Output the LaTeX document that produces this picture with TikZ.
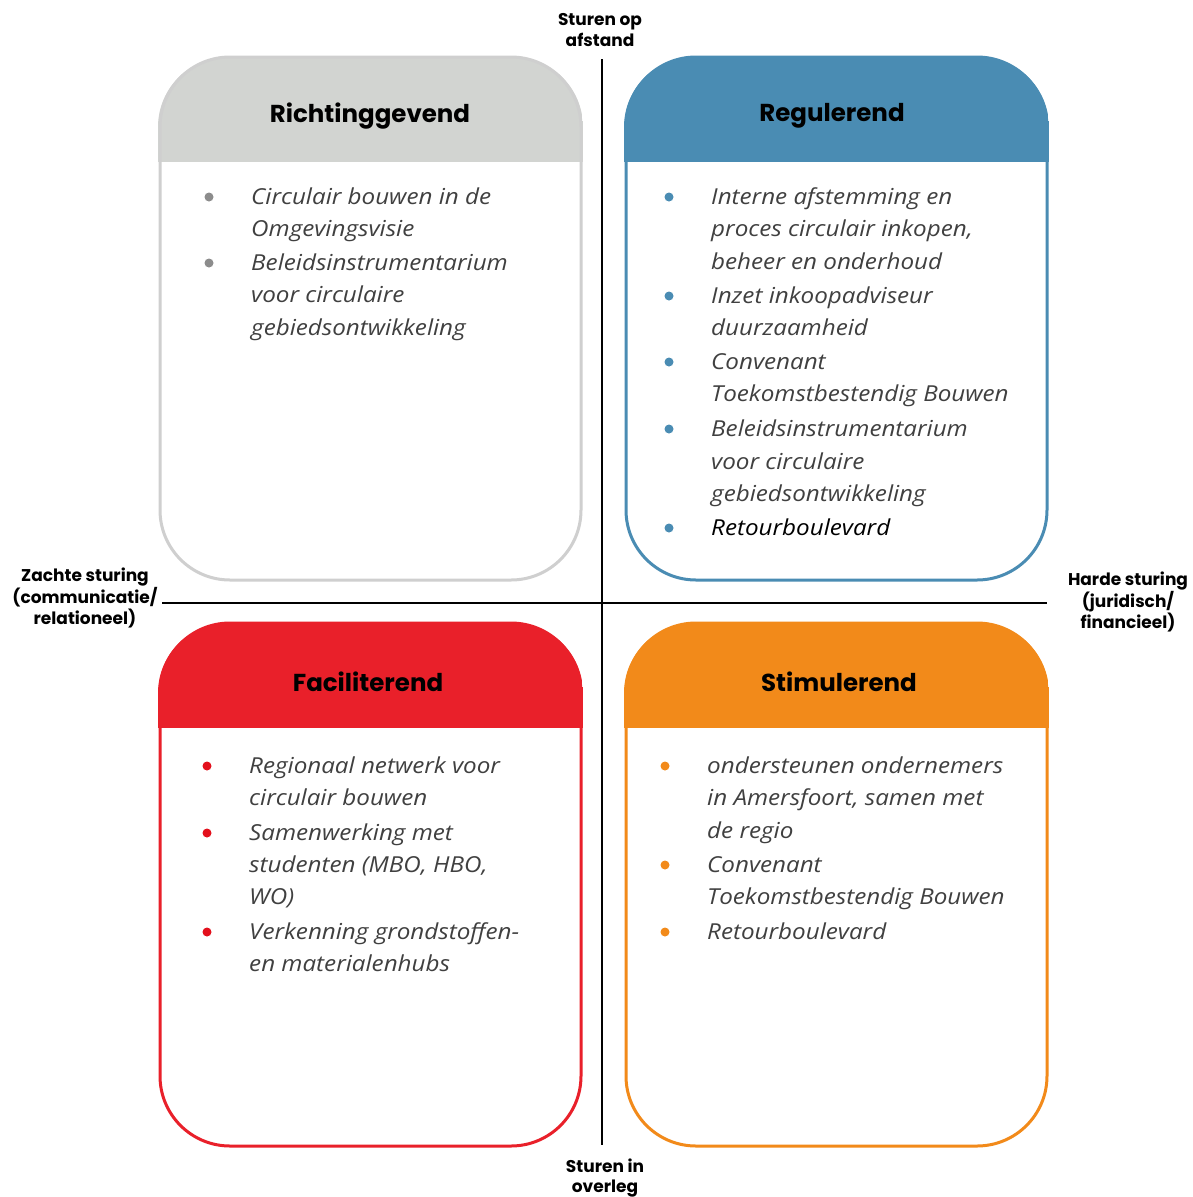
\documentclass[tikz,border=0pt]{standalone}
\usepackage{fontspec}
\setmainfont{Open Sans}[FakeStretch=1.1]
\newfontfamily\titlefont{Poppins}
\definecolor{cgrayh}{HTML}{D2D4D1}
\definecolor{cgrayb}{HTML}{CFCFCF}
\definecolor{cgrayd}{HTML}{8C8C8C}
\definecolor{cblue}{HTML}{4A8CB3}
\definecolor{cred}{HTML}{E9202A}
\definecolor{credd}{HTML}{E3101C}
\definecolor{corange}{HTML}{F28A1A}
\definecolor{ctext}{HTML}{404040}
\newcommand\itemline[4]{\node[bodytext,anchor=mid west] (#1) at (#2,#3+4) {#4};}
\newcommand\itemdot[4]{\fill[#4] (#2,#3) circle[radius=4.5] coordinate (#1);}
\begin{document}
\begin{tikzpicture}[x=1pt,y=-1pt,
  bodytext/.style={inner sep=0pt,font=\fontsize{22}{26}\selectfont\itshape,text=ctext},
  titletext/.style={inner sep=0pt,font=\titlefont\bfseries\fontsize{24.5}{28}\selectfont,text=black},
  axistext/.style={inner sep=0pt,align=center,font=\titlefont\bfseries\fontsize{17}{20.5}\selectfont,text=black},
  axisline/.style={line width=2.2pt,black}]
\useasboundingbox (0,0) rectangle (1193,1197);
\fill[white] (0,0) rectangle (1193,1197);
% boxes
\foreach \bx/\by/\hc/\bc in {160/57/cgrayh/cgrayb, 626/57/cblue/cblue, 160/623/cred/cred, 626/623/corange/corange}{
  \fill[white,rounded corners=70] (\bx,\by) rectangle ++(421,523);
  \begin{scope}
    \clip[rounded corners=70] (\bx-2,\by) rectangle ++(425,523);
    \fill[\hc] (\bx-2,\by-2) rectangle ++(425,107);
  \end{scope}
  \draw[\bc,line width=3,rounded corners=70] (\bx,\by) rectangle ++(421,523);
}
% axes
\coordinate (vt) at (602,59);
\coordinate (vb) at (602,1145);
\coordinate (hl) at (162,603);
\coordinate (hr) at (1047,603);
\draw[axisline] (vt) -- (vb);
\draw[axisline] (hl) -- (hr);
% axis labels
\node[axistext] (top) at (600,30) {Sturen op\\afstand};
\node[axistext] (bot) at (605,1178) {Sturen in\\overleg};
\node[axistext] (left) at (85,598) {Zachte sturing\\(communicatie/\\relationeel)};
\node[axistext] (right) at (1128,602) {Harde sturing\\(juridisch/\\financieel)};
% titles
\node[titletext] (t1) at (370,116) {Richtinggevend};
\node[titletext] (t2) at (832,116) {Regulerend};
\node[titletext] (t3) at (368,682) {Faciliterend};
\node[titletext] (t4) at (839,682) {Stimulerend};
% TL
\itemdot{d11}{209}{197}{cgrayd}
\itemline{l11}{251}{198}{Circulair bouwen in de}
\itemline{l12}{251}{230}{Omgevingsvisie}
\itemdot{d12}{209}{263}{cgrayd}
\itemline{l13}{251}{264}{Beleidsinstrumentarium}
\itemline{l14}{251}{296}{voor circulaire}
\itemline{l15}{251}{329}{gebiedsontwikkeling}
% TR
\itemdot{d21}{669}{197}{cblue}
\itemline{l21}{711}{198}{Interne afstemming en}
\itemline{l22}{711}{230}{proces circulair inkopen,}
\itemline{l23}{711}{263}{beheer en onderhoud}
\itemdot{d22}{669}{296}{cblue}
\itemline{l24}{711}{297}{Inzet inkoopadviseur}
\itemline{l25}{711}{329}{duurzaamheid}
\itemdot{d23}{669}{362}{cblue}
\itemline{l26}{711}{363}{Convenant}
\itemline{l27}{711}{395}{Toekomstbestendig Bouwen}
\itemdot{d24}{669}{429}{cblue}
\itemline{l28}{711}{430}{Beleidsinstrumentarium}
\itemline{l29}{711}{463}{voor circulaire}
\itemline{l210}{711}{495}{gebiedsontwikkeling}
\itemdot{d25}{669}{528}{cblue}
\node[bodytext,anchor=mid west,text=black] (l211) at (711,533) {Retourboulevard};
% BL
\itemdot{d31}{207}{766}{credd}
\itemline{l31}{249}{767}{Regionaal netwerk voor}
\itemline{l32}{249}{799}{circulair bouwen}
\itemdot{d32}{207}{833}{credd}
\itemline{l33}{249}{834}{Samenwerking met}
\itemline{l34}{249}{866}{studenten (MBO, HBO,}
\itemline{l35}{249}{898}{WO)}
\itemdot{d33}{207}{932}{credd}
\itemline{l36}{249}{933}{Verkenning grondstoffen-}
\itemline{l37}{249}{965}{en materialenhubs}
% BR
\itemdot{d41}{665}{766}{corange}
\itemline{l41}{707}{767}{ondersteunen ondernemers}
\itemline{l42}{707}{799}{in Amersfoort, samen met}
\itemline{l43}{707}{832}{de regio}
\itemdot{d42}{665}{865}{corange}
\itemline{l44}{707}{866}{Convenant}
\itemline{l45}{707}{898}{Toekomstbestendig Bouwen}
\itemdot{d43}{665}{932}{corange}
\itemline{l46}{707}{933}{Retourboulevard}
\end{tikzpicture}
\end{document}
